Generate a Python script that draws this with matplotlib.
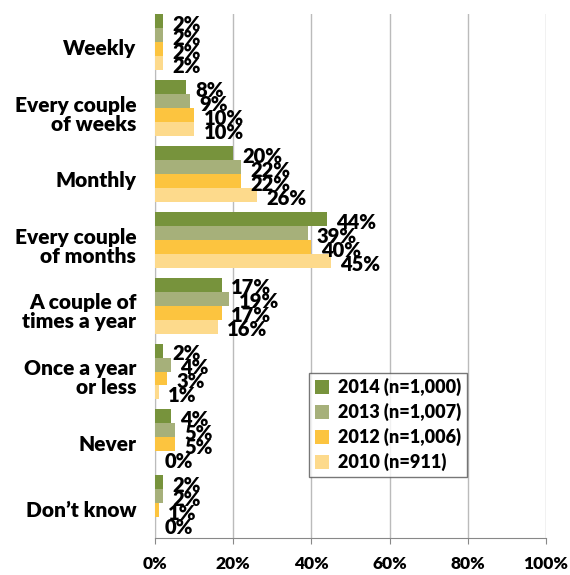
import numpy as np
import matplotlib
matplotlib.use("Agg")
import matplotlib.pyplot as plt

plt.rcParams["font.family"] = ["Lato", "DejaVu Sans"]

categories = ["Weekly", "Every couple\nof weeks", "Monthly", "Every couple\nof months",
              "A couple of\ntimes a year", "Once a year\nor less", "Never", "Don\u2019t know"]
series_names = ["2014 (n=1,000)", "2013 (n=1,007)", "2012 (n=1,006)", "2010 (n=911)"]
v2014 = [2, 8, 20, 44, 17, 2, 4, 2]
v2013 = [2, 9, 22, 39, 19, 4, 5, 2]
v2012 = [2, 10, 22, 40, 17, 3, 5, 1]
v2010 = [2, 10, 26, 45, 16, 1, 0, 0]
colors = ["#77933C", "#A6B07A", "#FCC43F", "#FDDA8C"]

fig = plt.figure(figsize=(5.7, 5.75), dpi=100)
ax = fig.add_axes([0.272, 0.064, 0.686, 0.912])

y = np.arange(len(categories))
h = 0.212
for i, (vals, name, c) in enumerate(zip([v2014, v2013, v2012, v2010], series_names, colors)):
    pos = y - 1.5 * h + i * h
    ax.barh(pos, vals, height=h, color=c, label=name, zorder=3)
    for p, v in zip(pos, vals):
        ax.text(v + 2.4, p + 0.05, f"{v}%", va="center", ha="left",
                fontsize=14.5, fontweight="heavy", zorder=4)

ax.set_xlim(0, 100)
ax.set_ylim(len(categories) - 0.5 + 0.03, -0.5 + 0.07)
ax.set_xticks(np.arange(0, 101, 20))
ax.set_xticklabels([f"{t}%" for t in range(0, 101, 20)], fontsize=12.5, fontweight="heavy")
# labels sit a little below the group centre, as in the original
ax.set_yticks(y + 0.08)
ax.set_yticklabels(categories, fontsize=15, fontweight="heavy", linespacing=1.0)
ax.tick_params(axis="y", length=0, pad=13.5)
ax.tick_params(axis="x", length=4, color="#888888", pad=9, direction="out")
ax.grid(axis="x", color="#BBBBBB", linewidth=1, zorder=0)
for s in ["top", "right"]:
    ax.spines[s].set_visible(False)
ax.spines["left"].set_color("#BBBBBB")
ax.spines["bottom"].set_color("#888888")

leg = ax.legend(loc="lower left", bbox_to_anchor=(0.394, 0.117), borderaxespad=0,
                prop={"weight": "heavy", "size": 13}, frameon=True, fancybox=False,
                edgecolor="#555555", handlelength=0.8, handleheight=0.8,
                handletextpad=0.5, labelspacing=0.38, borderpad=0.3)
leg.get_frame().set_linewidth(1.0)

fig.savefig("out.png", dpi=100)
